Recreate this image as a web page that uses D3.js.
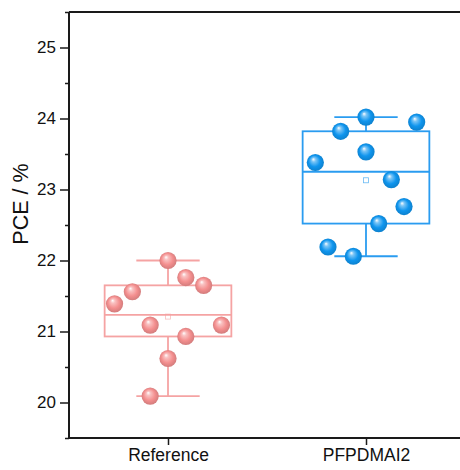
<!DOCTYPE html>
<html>
<head>
<meta charset="utf-8">
<script src="https://cdn.jsdelivr.net/npm/d3@7"></script>
<style>
  body { margin: 0; background: #fff; }
  svg { display: block; }
  svg text { font-family: Arial, "Liberation Sans", sans-serif; }
</style>
</head>
<body>
<div id="chart"></div>
<script>
// groups and their colours
const groups = ['Reference', 'PFPDMAI2'];
const boxColors = ['#f5a3a3', '#2a9cf0'];
const ballColors = ['#f48f8f', '#0f95ee'];

// box statistics: [whiskerLow, q1, median, q3, whiskerHigh, mean]
const refStats = [20.09, 20.93, 21.235, 21.65, 22.0, 21.21];
const pfStats = [22.06, 22.52, 23.25, 23.82, 24.02, 23.13];

// raw PCE values and their horizontal jitter (fraction of category width)
const refValues = [22.0, 21.76, 21.65, 21.56, 21.39, 21.09, 21.09, 20.93, 20.62, 20.09];
const refJitter = [0, 0.09, 0.18, -0.18, -0.27, -0.09, 0.27, 0.09, 0, -0.09];
const pfValues = [24.02, 23.95, 23.82, 23.53, 23.38, 23.14, 22.76, 22.52, 22.19, 22.06];
const pfJitter = [0, 0.256, -0.128, 0, -0.256, 0.128, 0.192, 0.064, -0.192, -0.064];

const yTicks = [20, 21, 22, 23, 24, 25];

const series = [
  { stats: refStats, values: refValues, jitter: refJitter },
  { stats: pfStats, values: pfValues, jitter: pfJitter },
];

const width = 460;
const height = 470;
const margin = { top: 12, right: -5, bottom: 32, left: 69 };

const svg = d3.select('#chart').append('svg')
  .attr('width', width)
  .attr('height', height);

const defs = svg.append('defs');
ballColors.forEach((c, i) => {
  const g = defs.append('radialGradient')
    .attr('id', `ball${i}`)
    .attr('cx', '50%').attr('cy', '50%').attr('r', '55%')
    .attr('fx', '38%').attr('fy', '30%');
  g.append('stop').attr('offset', '0%').attr('stop-color', '#ffffff');
  g.append('stop').attr('offset', '22%').attr('stop-color', d3.interpolateRgb('#ffffff', c)(0.55));
  g.append('stop').attr('offset', '60%').attr('stop-color', c);
  g.append('stop').attr('offset', '100%').attr('stop-color', d3.color(c).darker(0.5));
});

// continuous x so category centres sit at 1 and 2
const x = d3.scaleLinear().domain([0.5, 2.5]).range([margin.left, width - margin.right]);
const y = d3.scaleLinear().domain([19.5, 25.5]).range([height - margin.bottom, margin.top]);

const boxHalf = 0.32;
const whiskerHalf = 0.16;

series.forEach((s, i) => {
  const cx = i + 1;
  const [lo, q1, med, q3, hi, mean] = s.stats;
  const g = svg.append('g')
    .attr('stroke', boxColors[i])
    .attr('stroke-width', 1.8)
    .attr('fill', 'none');

  // whisker stems
  g.append('line').attr('x1', x(cx)).attr('x2', x(cx)).attr('y1', y(q3)).attr('y2', y(hi));
  g.append('line').attr('x1', x(cx)).attr('x2', x(cx)).attr('y1', y(q1)).attr('y2', y(lo));
  // caps
  [lo, hi].forEach((v) => {
    g.append('line')
      .attr('x1', x(cx - whiskerHalf)).attr('x2', x(cx + whiskerHalf))
      .attr('y1', y(v)).attr('y2', y(v));
  });
  // box
  g.append('rect')
    .attr('x', x(cx - boxHalf)).attr('y', y(q3))
    .attr('width', x(cx + boxHalf) - x(cx - boxHalf))
    .attr('height', y(q1) - y(q3));
  g.append('line')
    .attr('x1', x(cx - boxHalf)).attr('x2', x(cx + boxHalf))
    .attr('y1', y(med)).attr('y2', y(med));
  // mean marker
  g.append('rect')
    .attr('x', x(cx) - 2.5).attr('y', y(mean) - 2.5)
    .attr('width', 5).attr('height', 5)
    .attr('stroke-width', 0.8)
    .attr('opacity', 0.7);

  // data balls
  svg.append('g').selectAll('circle')
    .data(s.values)
    .join('circle')
    .attr('cx', (d, j) => x(cx + s.jitter[j]))
    .attr('cy', (d) => y(d))
    .attr('r', 8.6)
    .attr('fill', `url(#ball${i})`);
});

// axes
const axisColor = '#1a1a1a';
const yAxis = svg.append('g')
  .attr('transform', `translate(${margin.left},0)`)
  .call(d3.axisLeft(y).tickValues(yTicks).tickFormat(d3.format('d')).tickSize(9).tickPadding(4));
svg.append('g')
  .attr('transform', `translate(${margin.left},0)`)
  .call(d3.axisLeft(y).tickValues(d3.range(19.5, 25.6, 1)).tickFormat('').tickSize(4))
  .call((g) => g.select('.domain').remove());

const xAxis = svg.append('g')
  .attr('transform', `translate(0,${height - margin.bottom})`)
  .call(d3.axisBottom(x).tickValues([1, 2]).tickFormat((d) => groups[d - 1]).tickSize(7).tickPadding(4));

// top frame line
svg.append('line')
  .attr('x1', margin.left).attr('x2', width)
  .attr('y1', margin.top).attr('y2', margin.top)
  .attr('stroke', axisColor).attr('stroke-width', 2);

svg.selectAll('.domain').attr('stroke', axisColor).attr('stroke-width', 2);
svg.selectAll('.tick line').attr('stroke', axisColor).attr('stroke-width', 1.5);
svg.selectAll('g').attr('font-family', null);
yAxis.selectAll('.tick text').attr('font-size', 17).attr('fill', '#111');
xAxis.selectAll('.tick text').attr('font-size', 17.5).attr('fill', '#111');
yAxis.select('.domain').attr('d', `M0,${y(25.5)}V${y(19.5)}`);
xAxis.select('.domain').attr('d', `M${margin.left},0H${width}`);

svg.append('text')
  .attr('transform', `translate(22,${(y(19.5) + y(25.5)) / 2 - 21}) rotate(-90)`)
  .attr('text-anchor', 'middle')
  .attr('dominant-baseline', 'middle')
  .attr('font-size', 21.5)
  .attr('fill', '#111')
  .text('PCE / %');
</script>
</body>
</html>
